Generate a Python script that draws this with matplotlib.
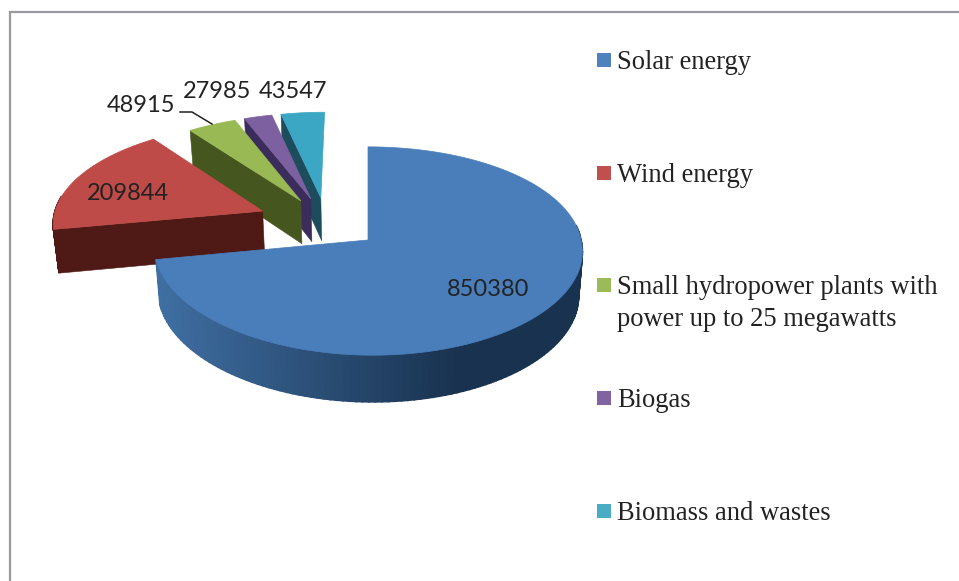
import numpy as np
import matplotlib

matplotlib.use("Agg")
import matplotlib.pyplot as plt
from matplotlib.colors import to_rgb
from matplotlib.patches import Polygon, Rectangle

categories = [
    "Solar energy",
    "Wind energy",
    "Small hydropower plants with\npower up to 25 megawatts",
    "Biogas",
    "Biomass and wastes",
]
values = [850380, 209844, 48915, 27985, 43547]

top_colors = ["#4a7ebb", "#be4b48", "#98b954", "#7d60a0", "#3ba7c4"]
legend_colors = ["#4f81bd", "#c0504d", "#9bbb59", "#8064a2", "#4bacc6"]
face_colors = ["#2c4f78", "#4f1a15", "#46561f", "#3b2d5b", "#1d4c5c"]
wall_left = ["#3f6fa3", "#4f1a15", "#46561f", "#3b2d5b", "#1d4c5c"]
wall_right = ["#19324f", "#4f1a15", "#46561f", "#3b2d5b", "#1d4c5c"]
explode = [0.0, 0.33, 0.26, 0.26, 0.26]

# projection of the tilted pie, tuned against the reference
APEX_X, APEX_Y = 368.0, 240.0
RX, RY = 213.0, 103.0
PERSP_X, PERSP_Y = 0.09, 0.106
DEPTH = 44.0
CENTER = np.array([-0.2, 0.17])


def project(px, py, drop=0.0):
    """Map points of the pie plane to picture pixels (y grows downward)."""
    v = -np.asarray(py, dtype=float)
    shrink = 1 - 0.018 * drop / DEPTH
    x = APEX_X + shrink * RX * np.asarray(px) / (1 - PERSP_X * v) + 5 * np.maximum(v, 0)
    y = APEX_Y + RY * v / (1 - PERSP_Y * v) + drop * (1 + 0.06 * v)
    return np.column_stack([x, y])


def slice_origin(index, mid):
    if index == 0:
        return np.zeros(2)
    return CENTER + explode[index] * np.array([np.sin(mid), np.cos(mid)])


fig = plt.figure(figsize=(9.59, 5.81), dpi=100)
ax = fig.add_axes([0, 0, 1, 1])
ax.set_xlim(0, 959)
ax.set_ylim(581, 0)
ax.axis("off")

# frame, open on the right and at the bottom
ax.plot([9.5, 9.5, 959], [581, 12, 12], color="#9a9a9e", lw=1.6, solid_joinstyle="miter")

angles = np.concatenate([[0], np.cumsum(values)]) / np.sum(values) * 2 * np.pi

# far slices first, the big one in front
for i in [4, 3, 2, 1, 0]:
    start, stop = angles[i], angles[i + 1]
    origin = slice_origin(i, (start + stop) / 2)
    theta = np.linspace(start, stop, 160)
    rim_x = origin[0] + np.sin(theta)
    rim_y = origin[1] + np.cos(theta)
    top_rim = project(rim_x, rim_y)
    low_rim = project(rim_x, rim_y, DEPTH)
    apex_top = project(origin[0], origin[1])
    apex_low = project(origin[0], origin[1], DEPTH)

    # cut face on the side of the slice turned toward the viewer
    if i != 0:
        ax.add_patch(
            Polygon(
                np.vstack([apex_top, top_rim[0], low_rim[0], apex_low]),
                facecolor=face_colors[i],
                edgecolor=face_colors[i],
                lw=0.4,
            )
        )

    # outer wall, shaded strip by strip
    left = np.array(to_rgb(wall_left[i]))
    right = np.array(to_rgb(wall_right[i]))
    for k in range(len(theta) - 1):
        if np.cos(theta[k]) > 0.15:
            continue
        mix = np.clip((top_rim[k, 0] - top_rim[:, 0].min()) / np.ptp(top_rim[:, 0]), 0, 1)
        shade = left + (right - left) * min(1.0, mix * 1.4)
        ax.add_patch(
            Polygon(
                [top_rim[k], top_rim[k + 1], low_rim[k + 1], low_rim[k]],
                facecolor=shade,
                edgecolor=shade,
                lw=1.2,
            )
        )

    ax.add_patch(
        Polygon(
            np.vstack([apex_top, top_rim]),
            facecolor=top_colors[i],
            edgecolor=top_colors[i],
            lw=0.5,
            joinstyle="round",
        )
    )

# data labels
label_font = ["Lato", "DejaVu Sans"]
label_xy = [(488, 289), (128, 194), (141, 106), (217, 91), (293, 91)]
for value, (x, y) in zip(values, label_xy):
    ax.text(x, y, str(value), ha="center", va="center", fontsize=17,
            family=label_font, color="#222222")

# leader line of the hydropower label
ax.plot([180, 192, 212], [112, 112, 124], color="#222222", lw=1.1)

# legend
legend_y = [60, 173, 285, 398, 511]
for label, color, y in zip(categories, legend_colors, legend_y):
    ax.add_patch(Rectangle((597, y - 7), 14, 14, facecolor=color, edgecolor="none"))
    ax.text(617, y - 10, label, ha="left", va="top", fontsize=19.1,
            family="Liberation Serif", color="#222222", linespacing=1.38)

fig.savefig("out.png", dpi=100)
